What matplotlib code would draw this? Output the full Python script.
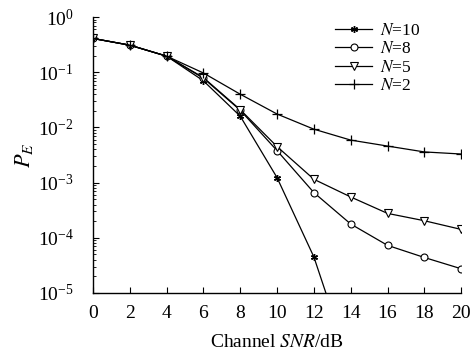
import numpy as np
import matplotlib
matplotlib.use("Agg")
import matplotlib.pyplot as plt

plt.rcParams['font.family'] = ['Liberation Serif', 'DejaVu Serif']
plt.rcParams['mathtext.fontset'] = 'stix'

# data
snr = [0, 2, 4, 6, 8, 10, 12, 14, 16, 18, 20]
snr_n10 = [0, 2, 4, 6, 8, 10, 12, 14]
pe_n10 = [0.41, 0.31, 0.196, 0.070, 0.016, 0.00123, 4.5e-5, 4.5e-7]
pe_n8 = [0.41, 0.31, 0.196, 0.078, 0.0205, 0.0038, 6.6e-4, 1.78e-4, 7.3e-5, 4.4e-5, 2.75e-5]
pe_n5 = [0.41, 0.31, 0.196, 0.080, 0.021, 0.0045, 0.00115, 5.5e-4, 2.77e-4, 2.04e-4, 1.42e-4]
pe_n2 = [0.41, 0.31, 0.196, 0.097, 0.040, 0.0175, 0.0093, 0.0059, 0.0046, 0.0036, 0.0033]

fig = plt.figure(figsize=(4.72, 3.56), dpi=100)
ax = fig.add_axes([0.197, 0.177, 0.780, 0.775])

lw = 0.9
ax.plot(snr_n10, pe_n10, color='black', lw=lw, marker=(6, 2, 0), ms=5, mew=1.0, label='$N$=10')
ax.plot(snr, pe_n8, color='black', lw=lw, marker='o', ms=5, mfc='white', mew=0.8, label='$N$=8')
ax.plot(snr, pe_n5, color='black', lw=lw, marker='v', ms=5.5, mfc='white', mew=0.8, label='$N$=5')
ax.plot(snr, pe_n2, color='black', lw=lw, marker='+', ms=6.5, mew=0.9, label='$N$=2')

ax.set_yscale('log')
ax.set_xlim(0, 20)
ax.set_ylim(1e-5, 1)
ax.set_xticks(range(0, 21, 2))

ax.spines['top'].set_visible(False)
ax.spines['right'].set_visible(False)
ax.spines['left'].set_linewidth(1.0)
ax.spines['bottom'].set_linewidth(1.0)
ax.tick_params(axis='both', which='both', direction='in', labelsize=14)
ax.tick_params(axis='both', which='major', length=4)
ax.tick_params(axis='x', which='major', pad=9)
ax.tick_params(axis='y', which='major', pad=14)
ax.tick_params(axis='y', which='minor', length=2)

ax.set_xlabel('Channel $SNR$/dB', fontsize=14, labelpad=8)
ax.set_ylabel('$P_E$', fontsize=16, labelpad=2)

ax.legend(loc='upper left', bbox_to_anchor=(0.616, 1.035), frameon=False, fontsize=12.5,
          handlelength=2.1, labelspacing=0.12, handletextpad=0.45)

fig.savefig('out.png', dpi=100)
